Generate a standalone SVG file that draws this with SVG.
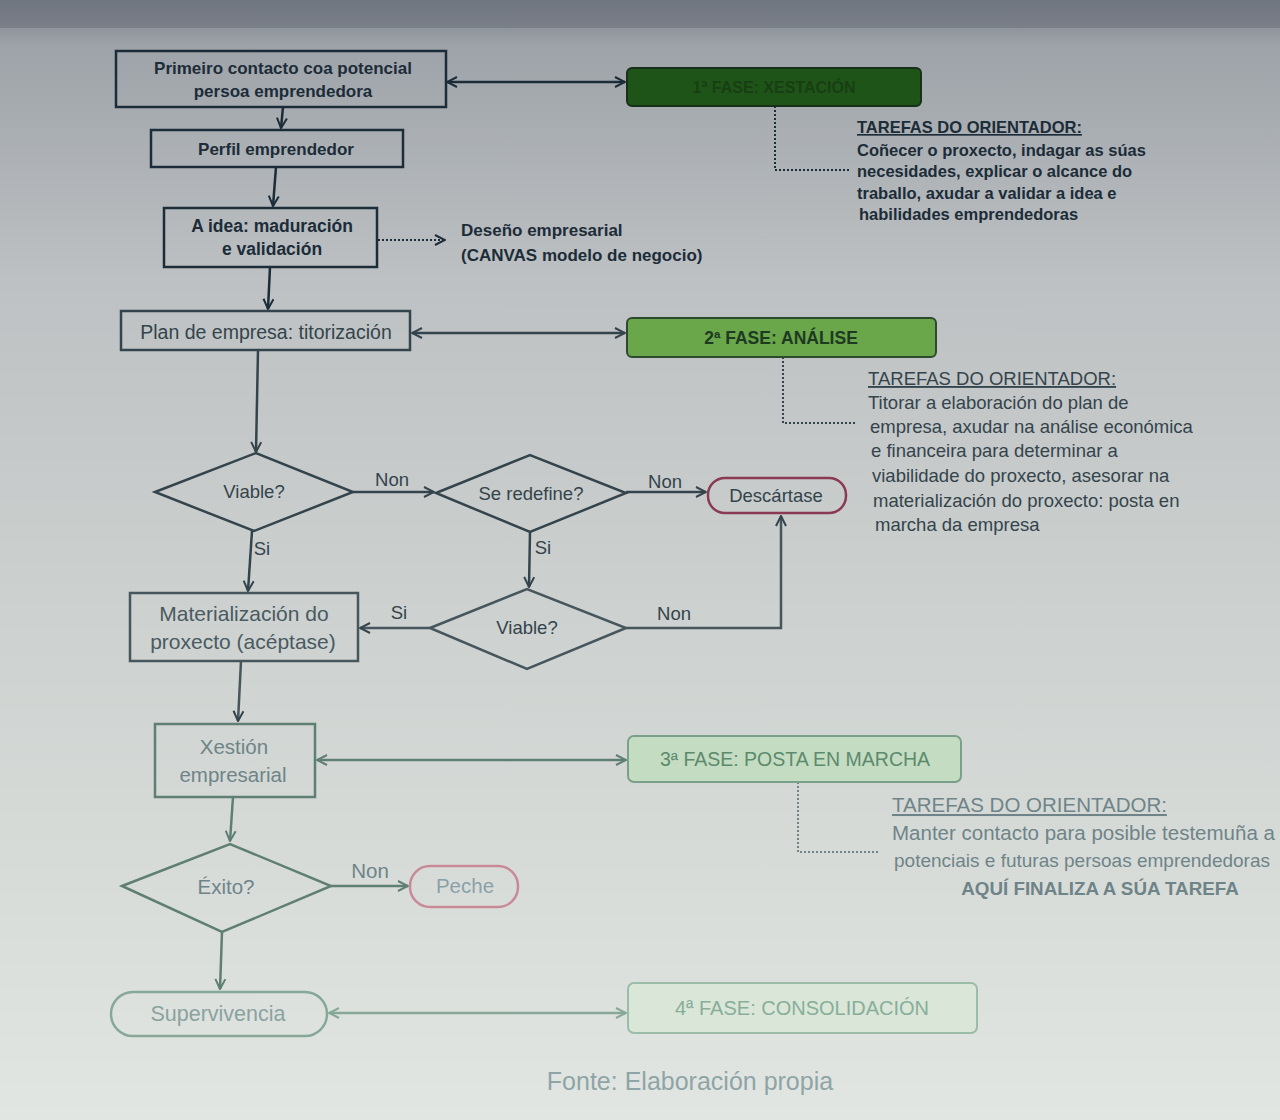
<svg xmlns="http://www.w3.org/2000/svg" width="1280" height="1120" viewBox="0 0 1280 1120">
<defs>
<linearGradient id="bg" x1="0" y1="0" x2="0" y2="1">
<stop offset="0" stop-color="#767d86"/>
<stop offset="0.04" stop-color="#9ea3a9"/>
<stop offset="0.25" stop-color="#bdc1c3"/>
<stop offset="0.55" stop-color="#cdd1cf"/>
<stop offset="1" stop-color="#e2e6e2"/>
</linearGradient>
<marker id="a1" viewBox="0 0 12 12" refX="11" refY="6" markerWidth="12" markerHeight="12" markerUnits="userSpaceOnUse" orient="auto-start-reverse"><path d="M1,1 L11,6 L1,11" fill="none" stroke="#1c2c38" stroke-width="2"/></marker>
<marker id="a2" viewBox="0 0 12 12" refX="11" refY="6" markerWidth="12" markerHeight="12" markerUnits="userSpaceOnUse" orient="auto-start-reverse"><path d="M1,1 L11,6 L1,11" fill="none" stroke="#34444c" stroke-width="2"/></marker>
<marker id="a3" viewBox="0 0 12 12" refX="11" refY="6" markerWidth="12" markerHeight="12" markerUnits="userSpaceOnUse" orient="auto-start-reverse"><path d="M1,1 L11,6 L1,11" fill="none" stroke="#5f7f74" stroke-width="2"/></marker>
<marker id="a4" viewBox="0 0 12 12" refX="11" refY="6" markerWidth="12" markerHeight="12" markerUnits="userSpaceOnUse" orient="auto-start-reverse"><path d="M1,1 L11,6 L1,11" fill="none" stroke="#86a898" stroke-width="2"/></marker>
</defs>
<style>
text{font-family:"Liberation Sans","Open Sans",Arial,sans-serif;}
.t1{fill:#1c2c38;font-size:17px;font-weight:bold;}
.t2{fill:#34444c;font-size:18.5px;}
.t3{fill:#4a5a62;font-size:21px;}
.t4{fill:#6f8488;font-size:20.5px;}
.t5{fill:#8aa2a0;font-size:21.5px;}
.s1{fill:none;stroke:#1c2c38;stroke-width:2.5;}
.s2{fill:none;stroke:#34444c;stroke-width:2.5;}
.s3{fill:none;stroke:#46565c;stroke-width:2.5;}
.s4{fill:none;stroke:#5f7f74;stroke-width:2.5;}
.s5{fill:none;stroke:#86a898;stroke-width:2.5;}
.dot{fill:none;stroke-width:2;stroke-dasharray:2 2;}
.c{text-anchor:middle;}
.u{text-decoration:underline;}
</style>
<rect x="0" y="0" width="1280" height="1120" fill="url(#bg)"/>
<rect x="0" y="0" width="1280" height="28" fill="#6c727b" opacity="0.6"/>

<g id="connectors">
<line x1="447" y1="82" x2="625" y2="82" class="s1" marker-start="url(#a1)" marker-end="url(#a1)"/>
<line x1="283" y1="107" x2="281" y2="128" class="s1" marker-end="url(#a1)"/>
<line x1="276" y1="167" x2="273" y2="206" class="s1" marker-end="url(#a1)"/>
<line x1="378" y1="240" x2="445" y2="240" class="s1 dot" stroke="#1c2c38" marker-end="url(#a1)"/>
<line x1="270" y1="267" x2="268" y2="309" class="s1" marker-end="url(#a1)"/>
<path d="M775,106 L775,170 L850,170" class="dot" stroke="#1c2c38"/>
<line x1="412" y1="333" x2="625" y2="333" class="s2" marker-start="url(#a2)" marker-end="url(#a2)"/>
<path d="M783,357 L783,423 L856,423" class="dot" stroke="#34444c"/>
<line x1="258" y1="350" x2="256" y2="452" class="s2" marker-end="url(#a2)"/>
<line x1="353" y1="492" x2="434" y2="492" class="s2" marker-end="url(#a2)"/>
<line x1="626" y1="492" x2="706" y2="492" class="s2" marker-end="url(#a2)"/>
<line x1="252" y1="531" x2="248" y2="591" class="s2" marker-end="url(#a2)"/>
<line x1="530" y1="532" x2="529" y2="587" class="s2" marker-end="url(#a2)"/>
<line x1="430" y1="628" x2="360" y2="628" class="s3" marker-end="url(#a2)"/>
<path d="M626,628 L781,628 L781,516" class="s3" marker-end="url(#a2)"/>
<line x1="241" y1="661" x2="238" y2="721" class="s3" marker-end="url(#a2)"/>
<line x1="317" y1="760" x2="626" y2="760" class="s4" marker-start="url(#a3)" marker-end="url(#a3)"/>
<path d="M798,782 L798,852 L880,852" class="dot" stroke="#6f8488"/>
<line x1="233" y1="797" x2="230" y2="841" class="s4" marker-end="url(#a3)"/>
<line x1="331" y1="886" x2="408" y2="886" class="s4" marker-end="url(#a3)"/>
<line x1="222" y1="932" x2="220" y2="989" class="s4" marker-end="url(#a3)"/>
<line x1="329" y1="1013" x2="626" y2="1013" class="s5" marker-start="url(#a4)" marker-end="url(#a4)"/>
</g>

<g id="primeiro-contacto">
<rect x="116" y="51" width="330" height="56" class="s1"/>
<text x="283" y="74" class="t1 c">Primeiro contacto coa potencial</text>
<text x="283" y="97" class="t1 c">persoa emprendedora</text>
</g>
<g id="fase1">
<rect x="627" y="68" width="294" height="38" rx="5" fill="#1f5418" stroke="#16301a" stroke-width="2"/>
<text x="774" y="93" class="c" font-size="16" font-weight="bold" fill="#183e14">1ª FASE: XESTACIÓN</text>
</g>
<g id="tarefas1">
<text x="857" y="133" class="t1 u" style="font-size:16.5px">TAREFAS DO ORIENTADOR:</text>
<text x="857" y="156" class="t1" style="font-size:16.5px">Coñecer o proxecto, indagar as súas</text>
<text x="857" y="177" class="t1" style="font-size:16.5px">necesidades, explicar o alcance do</text>
<text x="857" y="199" class="t1" style="font-size:16.5px">traballo, axudar a validar a idea e</text>
<text x="859" y="220" class="t1" style="font-size:16.5px">habilidades emprendedoras</text>
</g>
<g id="perfil">
<rect x="151" y="130" width="252" height="37" class="s1"/>
<text x="276" y="155" class="t1 c">Perfil emprendedor</text>
</g>
<g id="idea">
<rect x="164" y="208" width="213" height="59" class="s1"/>
<text x="272" y="232" class="t1 c" style="font-size:17.5px">A idea: maduración</text>
<text x="272" y="255" class="t1 c" style="font-size:17.5px">e validación</text>
</g>
<g id="desenho">
<text x="461" y="236" class="t1">Deseño empresarial</text>
<text x="461" y="261" class="t1">(CANVAS modelo de negocio)</text>
</g>
<g id="plan">
<rect x="121" y="311" width="289" height="39" class="s2"/>
<text x="266" y="339" class="t2 c" style="font-size:19.5px">Plan de empresa: titorización</text>
</g>
<g id="fase2">
<rect x="627" y="318" width="309" height="39" rx="5" fill="#6aa64a" stroke="#2e4a2e" stroke-width="2"/>
<text x="781" y="344" class="c" font-size="17.5" font-weight="bold" fill="#1e3a22">2ª FASE: ANÁLISE</text>
</g>
<g id="tarefas2">
<text x="868" y="385" class="t2 u">TAREFAS DO ORIENTADOR:</text>
<text x="868" y="409" class="t2">Titorar a elaboración do plan de</text>
<text x="870" y="433" class="t2">empresa, axudar na análise económica</text>
<text x="871" y="457" class="t2">e financeira para determinar a</text>
<text x="872" y="482" class="t2">viabilidade do proxecto, asesorar na</text>
<text x="873" y="507" class="t2">materialización do proxecto: posta en</text>
<text x="875" y="531" class="t2">marcha da empresa</text>
</g>
<g id="viable1">
<polygon points="155,492 256,453 353,492 254,531" class="s2"/>
<text x="254" y="498" class="t2 c">Viable?</text>
</g>
<text x="392" y="486" class="t2 c">Non</text>
<g id="redefine">
<polygon points="436,493 530,455 626,493 530,532" class="s2"/>
<text x="531" y="500" class="t2 c">Se redefine?</text>
</g>
<text x="665" y="488" class="t2 c">Non</text>
<g id="descartase">
<rect x="708" y="478" width="138" height="35" rx="17" fill="none" stroke="#8a3a52" stroke-width="2.5"/>
<text x="776" y="502" class="t2 c">Descártase</text>
</g>
<text x="262" y="555" class="t2 c">Si</text>
<text x="543" y="554" class="t2 c">Si</text>
<g id="viable2">
<polygon points="430,628 527,589 626,628 527,669" class="s3"/>
<text x="527" y="634" class="t2 c">Viable?</text>
</g>
<text x="399" y="619" class="t2 c">Si</text>
<text x="674" y="620" class="t2 c">Non</text>
<g id="materializacion">
<rect x="130" y="593" width="228" height="68" class="s3"/>
<text x="244" y="621" class="t3 c">Materialización do</text>
<text x="243" y="649" class="t3 c">proxecto (acéptase)</text>
</g>
<g id="xestion">
<rect x="155" y="724" width="160" height="73" class="s4"/>
<text x="234" y="754" class="t4 c">Xestión</text>
<text x="233" y="782" class="t4 c">empresarial</text>
</g>
<g id="fase3">
<rect x="628" y="736" width="333" height="46" rx="6" fill="#c4dcc2" stroke="#7aa08a" stroke-width="2"/>
<text x="795" y="766" class="c" font-size="19.5" fill="#5c8a6c">3ª FASE: POSTA EN MARCHA</text>
</g>
<g id="tarefas3">
<text x="892" y="812" class="t4 u">TAREFAS DO ORIENTADOR:</text>
<text x="892" y="840" class="t4">Manter contacto para posible testemuña a</text>
<text x="894" y="867" class="t4" style="font-size:19px">potenciais e futuras persoas emprendedoras</text>
<text x="1100" y="895" class="c" font-size="18.8" font-weight="bold" fill="#6f8488">AQUÍ FINALIZA A SÚA TAREFA</text>
</g>
<g id="exito">
<polygon points="122,886 230,844 331,886 222,932" class="s4"/>
<text x="226" y="894" class="t4 c">Éxito?</text>
</g>
<text x="370" y="878" class="t4 c">Non</text>
<g id="peche">
<rect x="410" y="866" width="108" height="41" rx="20" fill="none" stroke="#c98a98" stroke-width="2.5"/>
<text x="465" y="893" class="t4 c" style="fill:#8aa0a8">Peche</text>
</g>
<g id="supervivencia">
<rect x="111" y="992" width="216" height="44" rx="22" class="s5"/>
<text x="218" y="1021" class="t5 c">Supervivencia</text>
</g>
<g id="fase4">
<rect x="628" y="983" width="349" height="50" rx="6" fill="#d9e6d8" stroke="#9abca8" stroke-width="2"/>
<text x="802" y="1015" class="c" font-size="20" fill="#88ae98">4ª FASE: CONSOLIDACIÓN</text>
</g>
<text x="690" y="1090" class="c" font-size="25" fill="#8fa4a6">Fonte: Elaboración propia</text>
</svg>
